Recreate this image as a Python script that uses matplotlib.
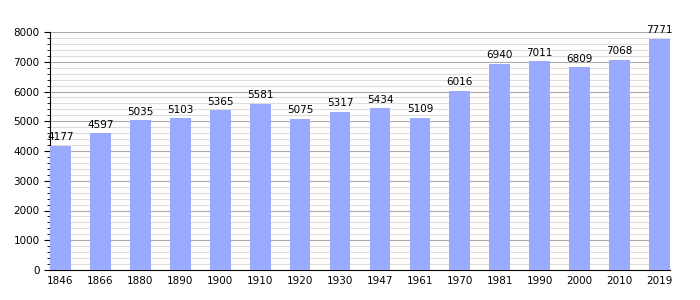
import numpy as np
import matplotlib.pyplot as plt
from matplotlib.ticker import MultipleLocator

years = ['1846', '1866', '1880', '1890', '1900', '1910', '1920', '1930',
         '1947', '1961', '1970', '1981', '1990', '2000', '2010', '2019']
population = [4177, 4597, 5035, 5103, 5365, 5581, 5075, 5317,
              5434, 5109, 6016, 6940, 7011, 6809, 7068, 7771]

fig = plt.figure(figsize=(7, 3), dpi=100)
ax = fig.add_axes([50/700, 30/300, 620/700, 238/300])

x = np.arange(len(years))
ax.bar(x, population, width=0.52, color='#99aaff', zorder=3)
for xi, v in zip(x, population):
    ax.text(xi, v + 120, str(v), ha='center', va='bottom', fontsize=7.5, zorder=4)

ax.set_xlim(-0.26, len(years) - 0.74)
ax.set_ylim(0, 8000)
ax.set_xticks(x)
ax.set_xticklabels(years)
ax.yaxis.set_major_locator(MultipleLocator(1000))
ax.yaxis.set_minor_locator(MultipleLocator(200))
ax.grid(axis='y', which='major', color='#aaaaaa', linewidth=0.8, zorder=0)
ax.grid(axis='y', which='minor', color='#dddddd', linewidth=0.8, zorder=0)
ax.tick_params(axis='x', length=0, labelsize=7.5, pad=4)
ax.tick_params(axis='y', which='major', length=4, labelsize=7.5)
ax.tick_params(axis='y', which='minor', length=2)
ax.spines['top'].set_visible(False)
ax.spines['right'].set_visible(False)

plt.savefig('out.png', dpi=100)
